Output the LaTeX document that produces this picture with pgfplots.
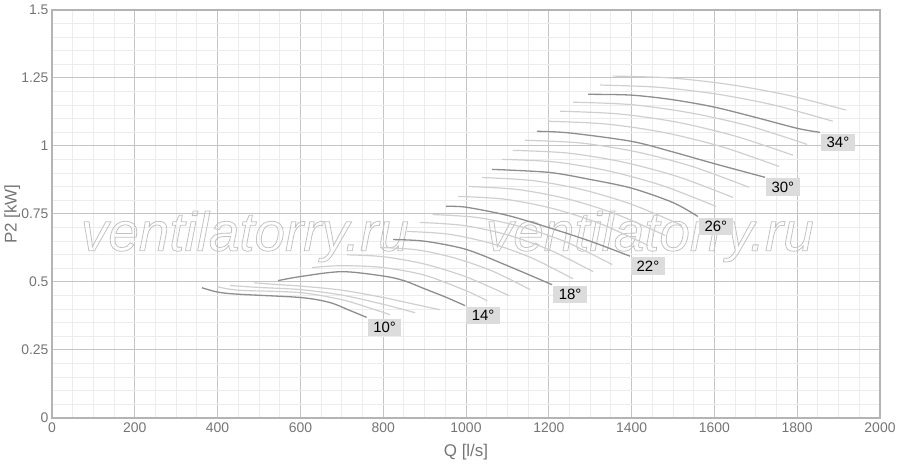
\documentclass[border=0pt]{standalone}
\usepackage{fontspec}
\setmainfont{Liberation Sans}
\usepackage{pgfplots}
\pgfplotsset{compat=1.18}
\definecolor{gridmaj}{HTML}{C4C4C4}
\definecolor{gridmin}{HTML}{ECECEC}
\definecolor{axisc}{HTML}{B4B4B4}
\definecolor{tickc}{HTML}{757575}
\definecolor{darkc}{HTML}{8E8E8E}
\definecolor{lightc}{HTML}{CFCFCF}
\definecolor{boxc}{HTML}{DCDCDC}
\definecolor{wmark}{HTML}{C2C2C2}
\tikzset{
  light/.style={lightc, line width=1.2bp},
  dark/.style={darkc, line width=1.3bp},
  tag/.style={fill=boxc, anchor=north west, inner xsep=5.5bp, inner ysep=3.5bp,
    text=black, font=\fontsize{15}{15}\selectfont, xshift=1bp, yshift=-1bp},
  wm/.style={font=\fontsize{55}{55}\selectfont\itshape, text=wmark},
}

\begin{document}
\begin{tikzpicture}
\path[use as bounding box] (-52bp,-52bp) rectangle (848bp,418bp);
\begin{axis}[
  at={(0,0)}, anchor=south west,
  scale only axis, width=828bp, height=408bp,
  xmin=0, xmax=2000, ymin=0, ymax=1.5,
  xtick={0,200,400,600,800,1000,1200,1400,1600,1800,2000},
  xticklabels={0,200,400,600,800,1000,1200,1400,1600,1800,2000},
  ytick={0,0.25,0.5,0.75,1,1.25,1.5},
  yticklabels={0,0.25,0.5,0.75,1,1.25,1.5},
  minor x tick num=3, minor y tick num=4,
  grid=both,
  major grid style={gridmaj, line width=1bp},
  minor grid style={gridmin, line width=1bp},
  axis line style={axisc, line width=1.2bp},
  major tick length=0pt, minor tick length=0pt,
  tick label style={tickc, font=\fontsize{14}{14}\selectfont},
  xticklabel style={yshift=-1bp},
  xlabel={Q [l/s]}, ylabel={P2 [kW]},
  label style={tickc, font=\fontsize{17}{17}\selectfont},
  xlabel style={at={(axis description cs:0.5,-0.083)}, anchor=center},
  ylabel style={at={(axis description cs:-0.048,0.5)}, anchor=center, rotate=0},
  every axis plot/.append style={smooth, no markers},
]
% watermark
\node[wm] at (axis cs:466,0.667)
  {\special{pdf:literal direct 1 Tr 0.8 w}ventilatorry.ru\special{pdf:literal direct 0 Tr}};
\node[wm] at (axis cs:1444,0.667)
  {\special{pdf:literal direct 1 Tr 0.8 w}ventilatorry.ru\special{pdf:literal direct 0 Tr}};

% light curves (1 degree steps)
\addplot[light] coordinates {(399,0.483) (450,0.470) (600,0.461) (700,0.435) (760,0.408) (816,0.380)}; % 11
\addplot[light] coordinates {(430,0.487) (500,0.480) (600,0.472) (700,0.452) (800,0.418) (877,0.387)}; % 12
\addplot[light] coordinates {(488,0.497) (550,0.490) (600,0.485) (700,0.470) (800,0.443) (870,0.420) (937,0.398)}; % 13
\addplot[light] coordinates {(628,0.553) (700,0.560) (800,0.553) (900,0.525) (1000,0.468) (1051,0.431)}; % 15
\addplot[light] coordinates {(712,0.600) (800,0.593) (900,0.566) (1000,0.519) (1104,0.450)}; % 16
\addplot[light] coordinates {(792,0.627) (883,0.618) (973,0.588) (1064,0.540) (1155,0.472)}; % 17
\addplot[light] coordinates {(857,0.686) (957,0.676) (1058,0.643) (1158,0.589) (1258,0.512)}; % 19
\addplot[light] coordinates {(889,0.719) (993,0.708) (1098,0.674) (1202,0.618) (1307,0.538)}; % 20
\addplot[light] coordinates {(920,0.748) (1028,0.737) (1136,0.702) (1245,0.645) (1353,0.564)}; % 21
\addplot[light] coordinates {(981,0.815) (1096,0.804) (1210,0.770) (1325,0.714) (1440,0.634)}; % 23
\addplot[light] coordinates {(1007,0.851) (1125,0.840) (1244,0.806) (1362,0.750) (1481,0.671)}; % 24
\addplot[light] coordinates {(1039,0.884) (1160,0.873) (1280,0.840) (1401,0.785) (1522,0.708)}; % 25
\addplot[light] coordinates {(1087,0.951) (1216,0.941) (1345,0.908) (1475,0.854) (1604,0.778)}; % 27
\addplot[light] coordinates {(1113,0.984) (1246,0.974) (1379,0.941) (1512,0.887) (1645,0.811)}; % 28
\addplot[light] coordinates {(1142,1.021) (1277,1.011) (1413,0.978) (1548,0.924) (1684,0.848)}; % 29
\addplot[light] coordinates {(1198,1.091) (1337,1.081) (1477,1.050) (1616,0.998) (1756,0.925)}; % 31
\addplot[light] coordinates {(1227,1.128) (1368,1.118) (1508,1.088) (1649,1.037) (1790,0.966)}; % 32
\addplot[light] coordinates {(1259,1.161) (1400,1.152) (1541,1.122) (1683,1.074) (1824,1.006)}; % 33
\addplot[light] coordinates {(1324,1.224) (1464,1.216) (1605,1.191) (1745,1.150) (1886,1.091)}; % 35
\addplot[light] coordinates {(1355,1.257) (1496,1.250) (1636,1.226) (1777,1.187) (1918,1.132)}; % 36

% labelled curves
\addplot[dark] coordinates {(362,0.479) (400,0.463) (450,0.455) (600,0.443) (670,0.425) (720,0.395) (760,0.370)}; % 10
\addplot[dark] coordinates {(546,0.505) (600,0.520) (700,0.538) (800,0.522) (850,0.505) (900,0.475) (950,0.445) (998,0.413)}; % 14
\addplot[dark] coordinates {(824,0.656) (900,0.650) (1000,0.620) (1100,0.560) (1208,0.490)}; % 18
\addplot[dark] coordinates {(952,0.778) (1000,0.775) (1100,0.745) (1200,0.700) (1300,0.650) (1396,0.595)}; % 22
\addplot[dark] coordinates {(1063,0.914) (1200,0.903) (1300,0.877) (1400,0.845) (1500,0.792) (1560,0.741)}; % 26
\addplot[dark] coordinates {(1171,1.054) (1250,1.048) (1400,1.017) (1500,0.978) (1600,0.935) (1722,0.885)}; % 30
\addplot[dark] coordinates {(1295,1.190) (1400,1.187) (1500,1.170) (1600,1.143) (1700,1.105) (1800,1.065) (1855,1.050)}; % 34

\node[tag] at (axis cs:760,0.370) {10°};
\node[tag] at (axis cs:998,0.413) {14°};
\node[tag] at (axis cs:1208,0.490) {18°};
\node[tag] at (axis cs:1396,0.595) {22°};
\node[tag] at (axis cs:1560,0.741) {26°};
\node[tag] at (axis cs:1722,0.885) {30°};
\node[tag] at (axis cs:1855,1.050) {34°};
\end{axis}
\end{tikzpicture}
\end{document}
